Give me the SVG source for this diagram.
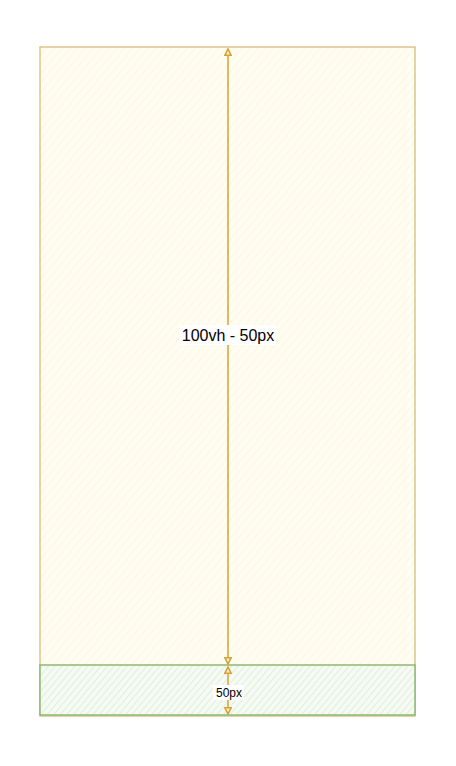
<svg xmlns="http://www.w3.org/2000/svg" width="456" height="766" viewBox="0 0 456 766">
<style>
.lbl{font-family:"Liberation Sans",Arial,sans-serif;fill:#000;text-anchor:middle}
.conn{stroke:#d6a235;stroke-width:1.5;fill:none}
</style>
<defs>
<pattern id="hy" width="6" height="6" patternUnits="userSpaceOnUse" patternTransform="rotate(40)">
<rect width="6" height="6" fill="#fffdf2"/>
<line x1="0" y1="0" x2="0" y2="6" stroke="#fbf3da" stroke-width="1.2"/>
</pattern>
<pattern id="hg" width="5" height="5" patternUnits="userSpaceOnUse" patternTransform="rotate(40)">
<rect width="5" height="5" fill="#f5faf3"/>
<line x1="0" y1="0" x2="0" y2="5" stroke="#dbead6" stroke-width="1.5"/>
</pattern>
<marker id="ah" viewBox="0 0 10 10" refX="9" refY="5" markerWidth="8" markerHeight="8" orient="auto-start-reverse" markerUnits="userSpaceOnUse">
<path d="M1,1 L9,5 L1,9 Z" fill="#fff2cc" stroke="#d6a235" stroke-width="2"/>
</marker>
</defs>
<rect width="456" height="766" fill="#fff"/>
<g id="main">
<rect x="40" y="47" width="375" height="669" fill="url(#hy)" stroke="#d6bc7a" stroke-width="1.3"/>
</g>
<g id="footer">
<rect x="40" y="665" width="375" height="50" fill="url(#hg)" stroke="#8fb874" stroke-width="1.5"/>
</g>
<g id="connectors">
<line class="conn" x1="228" y1="49" x2="228" y2="664" marker-start="url(#ah)" marker-end="url(#ah)"/>
<line class="conn" x1="228" y1="667" x2="228" y2="714" marker-start="url(#ah)" marker-end="url(#ah)"/>
</g>
<g id="labels">
<rect x="180" y="325" width="96" height="20" fill="#fff"/>
<text class="lbl" x="228" y="341" font-size="16">100vh - 50px</text>
<rect x="213" y="685" width="31" height="15" fill="#fff"/>
<text class="lbl" x="229" y="697" font-size="12">50px</text>
</g>
</svg>
